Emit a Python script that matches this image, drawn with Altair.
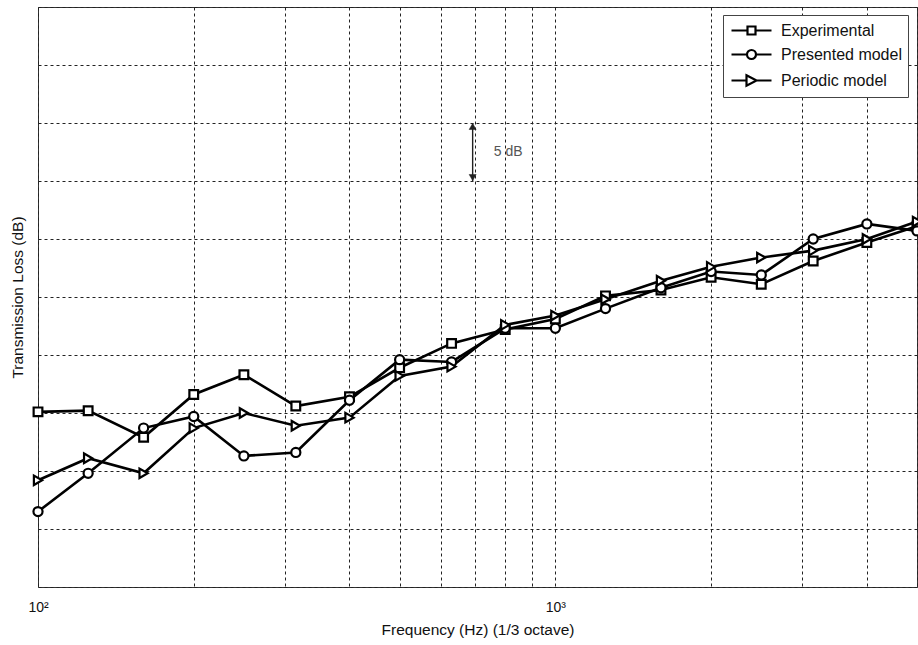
import altair as alt
import pandas as pd

# ---------------- data ----------------
freqs = [100, 125, 160, 200, 250, 315, 400, 500, 630, 800,
         1000, 1250, 1600, 2000, 2500, 3150, 4000, 5000]
experimental = [15.1, 15.2, 12.9, 16.6, 18.3, 15.6, 16.4, 18.9, 21.0, 22.2,
                23.1, 25.1, 25.6, 26.7, 26.1, 28.1, 29.7, 31.1]
presented = [6.5, 9.8, 13.7, 14.7, 11.3, 11.6, 16.1, 19.6, 19.4, 22.3,
             22.3, 24.0, 25.8, 27.2, 26.9, 30.0, 31.3, 30.7]
periodic = [9.2, 11.1, 9.8, 13.7, 15.0, 13.9, 14.6, 18.2, 19.0, 22.6,
            23.4, 24.8, 26.4, 27.6, 28.4, 29.0, 30.0, 31.5]
series_names = ["Experimental", "Presented model", "Periodic model"]

x_grid = [100, 200, 300, 400, 500, 600, 700, 800, 900,
          1000, 2000, 3000, 4000, 5000]
y_grid = [0, 5, 10, 15, 20, 25, 30, 35, 40, 45, 50]

# "5 dB" scale annotation (data units)
arrow_freq = 692
arrow_db = [35, 40]
note_freq = 760
note_db = 37.5
note_text = "5 dB"

# ---------------- tables ----------------
rows = []
for name, vals in zip(series_names, [experimental, presented, periodic]):
    for f, v in zip(freqs, vals):
        rows.append({"freq": f, "tl": v, "series": name})
df = pd.DataFrame(rows)

arrow_df = pd.DataFrame({"freq": [arrow_freq], "lo": [arrow_db[0]], "hi": [arrow_db[1]]})
top_df = pd.DataFrame({"freq": [arrow_freq], "tl": [arrow_db[1]]})
bot_df = pd.DataFrame({"freq": [arrow_freq], "tl": [arrow_db[0]]})
note_df = pd.DataFrame({"freq": [note_freq], "tl": [note_db], "txt": [note_text]})

FONT = "Liberation Sans"
INK = "#111111"

xscale = alt.Scale(type="log", domain=[100, 5000], nice=False)
yscale = alt.Scale(domain=[0, 50], nice=False, zero=False)

x_axis = alt.Axis(values=x_grid, grid=True, ticks=False, domain=False,
                  labelExpr="datum.value == 100 ? '10²' : datum.value == 1000 ? '10³' : ''",
                  labelFont=FONT, labelFontSize=14, labelColor=INK, labelPadding=13,
                  labelOverlap=False, labelFlush=False,
                  title="Frequency (Hz) (1/3 octave)", titleFont=FONT, titleFontSize=15.5,
                  titleFontWeight="normal", titleColor=INK, titlePadding=8,
                  gridColor="#222222", gridDash=[3, 3], gridWidth=1, gridOpacity=1)
y_axis = alt.Axis(values=y_grid, grid=True, ticks=False, domain=False, labels=False,
                  title="Transmission Loss (dB)", titleFont=FONT, titleFontSize=15.5,
                  titleFontWeight="normal", titleColor=INK, titlePadding=13,
                  gridColor="#222222", gridDash=[3, 3], gridWidth=1, gridOpacity=1)

base = alt.Chart(df)

lines = base.mark_line(color="black", strokeWidth=2.6).encode(
    x=alt.X("freq:Q", scale=xscale, axis=x_axis),
    y=alt.Y("tl:Q", scale=yscale, axis=y_axis),
    detail="series:N",
)

points = base.mark_point(filled=True, fill="white", stroke="black", strokeWidth=2.2,
                         opacity=1).encode(
    x=alt.X("freq:Q", scale=xscale),
    y=alt.Y("tl:Q", scale=yscale),
    shape=alt.Shape("series:N",
                    scale=alt.Scale(domain=series_names,
                                    range=["square", "circle", "triangle-right"]),
                    legend=None),
    size=alt.Size("series:N",
                  scale=alt.Scale(domain=series_names, range=[76, 90, 145]),
                  legend=None),
)

# legend symbols: line with the marker in the middle (custom paths)
legend_paths = [
    "M-0.875,0L1.125,0M2.125,0L4.125,0M1.125,-0.5L2.125,-0.5L2.125,0.5L1.125,0.5Z",
    "M-0.875,0L1.0625,0M2.1875,0L4.125,0M2.1875,0A0.5625,0.5625,0,1,1,1.0625,0A0.5625,0.5625,0,1,1,2.1875,0Z",
    "M-0.875,0L1.0,0M2.25,0L4.125,0M1.0,-0.65L2.25,0L1.0,0.65Z",
]
legend_layer = base.transform_filter("false").mark_point(
    filled=False, color="black", strokeWidth=2.2, opacity=1
).encode(
    x=alt.X("freq:Q", scale=xscale),
    y=alt.Y("tl:Q", scale=yscale),
    shape=alt.Shape("series:N",
                    scale=alt.Scale(domain=series_names, range=legend_paths),
                    legend=alt.Legend(title=None, orient="none", legendX=685, legendY=8,
                                      symbolSize=256, symbolStrokeWidth=2.2,
                                      symbolStrokeColor="black",
                                      symbolOpacity=1,
                                      labelFont=FONT, labelFontSize=16, labelColor=INK,
                                      labelOffset=33, rowPadding=6, padding=6,
                                      strokeColor="#444444", fillColor="white",
                                      labelLimit=300)),
)

arrow_line = alt.Chart(arrow_df).mark_rule(color="#222222", strokeWidth=1.4).encode(
    x=alt.X("freq:Q", scale=xscale),
    y=alt.Y("lo:Q", scale=yscale),
    y2="hi:Q",
)
head_up = alt.Chart(top_df).mark_point(
    shape="triangle-up", filled=True, fill="#222222", stroke="#222222", strokeWidth=0.5,
    opacity=1, size=49, yOffset=3.5
).encode(x=alt.X("freq:Q", scale=xscale), y=alt.Y("tl:Q", scale=yscale))
head_down = alt.Chart(bot_df).mark_point(
    shape="triangle-down", filled=True, fill="#222222", stroke="#222222", strokeWidth=0.5,
    opacity=1, size=49, yOffset=-3.5
).encode(x=alt.X("freq:Q", scale=xscale), y=alt.Y("tl:Q", scale=yscale))

note = alt.Chart(note_df).mark_text(align="left", baseline="middle", font=FONT,
                                    fontSize=14, color="#555555").encode(
    x=alt.X("freq:Q", scale=xscale),
    y=alt.Y("tl:Q", scale=yscale),
    text="txt:N",
)

chart = alt.layer(lines, points, legend_layer, arrow_line, head_up, head_down, note).resolve_scale(
    shape="independent", size="independent"
).properties(
    width=879, height=580,
    padding={"left": 38, "top": 7, "right": 1, "bottom": 58},
    autosize=alt.AutoSizeParams(type="none"),
    background="white",
).configure_view(stroke="#333333", strokeWidth=1)

chart.save("out.html", embed_options={"renderer": "svg", "actions": False})
